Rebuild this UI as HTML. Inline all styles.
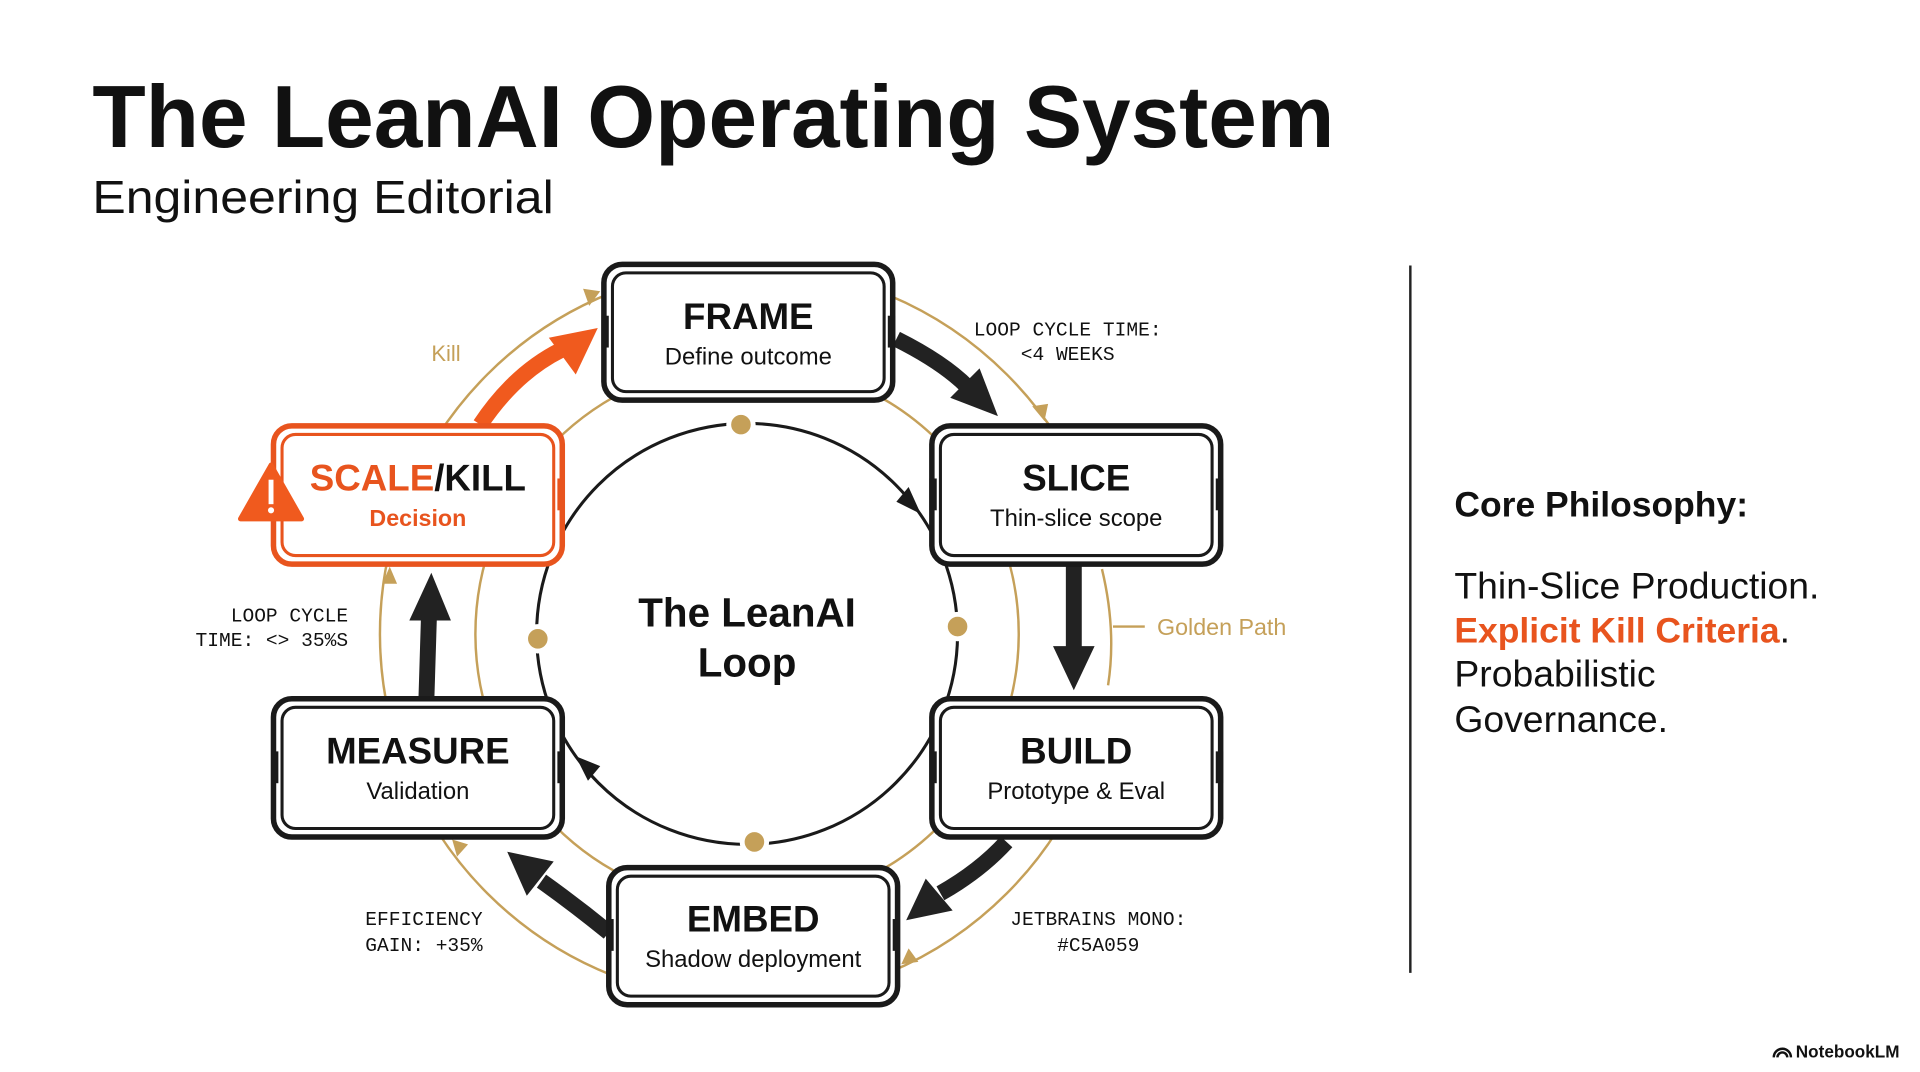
<!DOCTYPE html>
<html><head><meta charset="utf-8"><style>
html,body{margin:0;padding:0;background:#fff;}
svg{display:block;}
.t{font-family:"Liberation Sans",sans-serif;}
.m{font-family:"Liberation Mono","DejaVu Sans Mono",monospace;}
</style></head><body>
<svg width="1920" height="1072" viewBox="0 0 1568 876" xmlns="http://www.w3.org/2000/svg">
<rect width="1568" height="876" fill="#fff"/>
<text x="75" y="120" class="t" font-size="72" font-weight="bold" fill="#111" textLength="1015" lengthAdjust="spacingAndGlyphs">The LeanAI Operating System</text>
<text x="75" y="174" class="t" font-size="38" fill="#111" textLength="377" lengthAdjust="spacingAndGlyphs">Engineering Editorial</text>

<circle cx="610" cy="518" r="300" fill="none" stroke="#C5A059" stroke-width="2"/>
<circle cx="610" cy="518" r="222" fill="none" stroke="#C5A059" stroke-width="2"/>
<g fill="#C5A059">
<polygon points="490,238 476,236 481,250"/>
<polygon points="853,344 843,332 856,330"/>
<polygon points="905,567 899,553 911,553"/>
<polygon points="736,788 742,775 750,786"/>
<polygon points="369,686 382,690 373,700"/>
<polygon points="318,463 312,477 324,477"/>
</g>
<rect x="880" y="440" width="50" height="150" fill="#fff"/>
<path d="M900 465 Q912 515 905 560" fill="none" stroke="#C5A059" stroke-width="2"/>
<line x1="909" y1="512" x2="935" y2="512" stroke="#C5A059" stroke-width="2"/>
<text x="945" y="519" class="t" font-size="19" fill="#C5A059">Golden Path</text>
<text x="352" y="295" class="t" font-size="18" fill="#C5A059">Kill</text>

<circle cx="610" cy="518" r="172" fill="none" stroke="#1a1a1a" stroke-width="2.5"/>
<g fill="#1a1a1a">
<polygon points="752,420 732,410 742,398"/>
<polygon points="470,618 490,626 480,638"/>
</g>
<g fill="#C5A059" stroke="#fff" stroke-width="4">
<circle cx="605" cy="347" r="10"/><circle cx="782" cy="512" r="10"/><circle cx="616" cy="688" r="10"/><circle cx="439" cy="522" r="10"/>
</g>
<text x="610" y="512" text-anchor="middle" class="t" font-size="33" font-weight="bold" fill="#111">The LeanAI</text>
<text x="610" y="553" text-anchor="middle" class="t" font-size="33" font-weight="bold" fill="#111">Loop</text>

<g stroke="#222" stroke-width="13" fill="none">
<path d="M732 277 Q770 296 790 316"/>
<path d="M877 462 L877 530"/>
<path d="M822 688 Q800 712 768 730"/>
<path d="M497 762 Q470 740 442 720"/>
<path d="M348 570 L350 505"/>
</g>
<g fill="#222">
<polygon points="815,340 776,325 800,301"/>
<polygon points="877,564 860,528 894,528"/>
<polygon points="740,752 756,718 778,744"/>
<polygon points="414,696 452,704 430,732"/>
<polygon points="352,468 334,507 368,507"/>
</g>
<path d="M392 347 Q420 305 458 286" stroke="#F05A1E" stroke-width="13" fill="none"/>
<polygon points="488,268 448,276 470,306" fill="#F05A1E"/>

<g class="t">
<g stroke="#1a1a1a">
<rect x="493" y="216" width="236" height="111" rx="15" fill="#fff" stroke-width="4.5"/>
<rect x="500" y="223" width="222" height="97" rx="11" fill="none" stroke-width="2.5"/>
<rect x="761" y="348" width="236" height="113" rx="15" fill="#fff" stroke-width="4.5"/>
<rect x="768" y="355" width="222" height="99" rx="11" fill="none" stroke-width="2.5"/>
<rect x="761" y="571" width="236" height="113" rx="15" fill="#fff" stroke-width="4.5"/>
<rect x="768" y="578" width="222" height="99" rx="11" fill="none" stroke-width="2.5"/>
<rect x="497" y="709" width="236" height="112" rx="15" fill="#fff" stroke-width="4.5"/>
<rect x="504" y="716" width="222" height="98" rx="11" fill="none" stroke-width="2.5"/>
<rect x="223" y="571" width="236" height="113" rx="15" fill="#fff" stroke-width="4.5"/>
<rect x="230" y="578" width="222" height="99" rx="11" fill="none" stroke-width="2.5"/>
</g>
<g stroke="#E8541E">
<rect x="223" y="348" width="236" height="113" rx="15" fill="#fff" stroke-width="4.5"/>
<rect x="230" y="355" width="222" height="99" rx="11" fill="none" stroke-width="2.5"/>
</g>
<g fill="#1a1a1a">
<rect x="491" y="258" width="6" height="26"/><rect x="725" y="258" width="6" height="26"/>
<rect x="759" y="391" width="6" height="26"/><rect x="993" y="391" width="6" height="26"/>
<rect x="759" y="614" width="6" height="26"/><rect x="993" y="614" width="6" height="26"/>
<rect x="495" y="751" width="6" height="26"/><rect x="729" y="751" width="6" height="26"/>
<rect x="221" y="614" width="6" height="26"/><rect x="455" y="614" width="6" height="26"/>
</g>
<g fill="#E8541E"><rect x="455" y="391" width="6" height="26"/></g>
<text x="611" y="269" text-anchor="middle" font-size="30" font-weight="bold" fill="#111">FRAME</text>
<text x="611" y="298" text-anchor="middle" font-size="19.5" fill="#111">Define outcome</text>
<text x="879" y="401" text-anchor="middle" font-size="30" font-weight="bold" fill="#111">SLICE</text>
<text x="879" y="430" text-anchor="middle" font-size="19.5" fill="#111">Thin-slice scope</text>
<text x="879" y="624" text-anchor="middle" font-size="30" font-weight="bold" fill="#111">BUILD</text>
<text x="879" y="653" text-anchor="middle" font-size="19.5" fill="#111">Prototype &amp; Eval</text>
<text x="615" y="761" text-anchor="middle" font-size="30" font-weight="bold" fill="#111">EMBED</text>
<text x="615" y="790" text-anchor="middle" font-size="19.5" fill="#111">Shadow deployment</text>
<text x="341" y="624" text-anchor="middle" font-size="30" font-weight="bold" fill="#111">MEASURE</text>
<text x="341" y="653" text-anchor="middle" font-size="19.5" fill="#111">Validation</text>
<text x="341" y="401" text-anchor="middle" font-size="30" font-weight="bold"><tspan fill="#E8541E">SCALE</tspan><tspan fill="#111">/KILL</tspan></text>
<text x="341" y="430" text-anchor="middle" font-size="19" font-weight="bold" fill="#E8541E">Decision</text>
</g>
<path d="M221 380 L246 424 L196 424 Z" fill="#F05A1E" stroke="#F05A1E" stroke-width="4" stroke-linejoin="round"/>
<rect x="219" y="392" width="4" height="20" fill="#fff"/><circle cx="221" cy="417" r="2.5" fill="#fff"/>

<g class="m" font-size="16" fill="#111">
<text x="872" y="274" text-anchor="middle">LOOP CYCLE TIME:</text>
<text x="872" y="294" text-anchor="middle">&lt;4 WEEKS</text>
<text x="284" y="508" text-anchor="end">LOOP CYCLE</text>
<text x="284" y="528" text-anchor="end">TIME: &lt;&gt; 35%S</text>
<text x="298" y="756">EFFICIENCY</text>
<text x="298" y="777">GAIN: +35%</text>
<text x="897" y="756" text-anchor="middle">JETBRAINS MONO:</text>
<text x="897" y="777" text-anchor="middle">#C5A059</text>
</g>

<line x1="1152" y1="217" x2="1152" y2="795" stroke="#222" stroke-width="2"/>
<g class="t" fill="#111">
<text x="1188" y="422" font-size="29" font-weight="bold">Core Philosophy:</text>
<g font-size="30.5">
<text x="1188" y="489">Thin-Slice Production.</text>
<text x="1188" y="525"><tspan fill="#E8541E" font-weight="bold" font-size="29">Explicit Kill Criteria</tspan>.</text>
<text x="1188" y="561">Probabilistic</text>
<text x="1188" y="598">Governance.</text>
</g>
</g>
<path d="M1449 864 a7 7 0 0 1 14 0 M1452 864 a4 4 0 0 1 8 0" fill="none" stroke="#111" stroke-width="2"/>
<text x="1467" y="864" class="t" font-size="14" font-weight="bold" fill="#111">NotebookLM</text>
</svg>
</body></html>
